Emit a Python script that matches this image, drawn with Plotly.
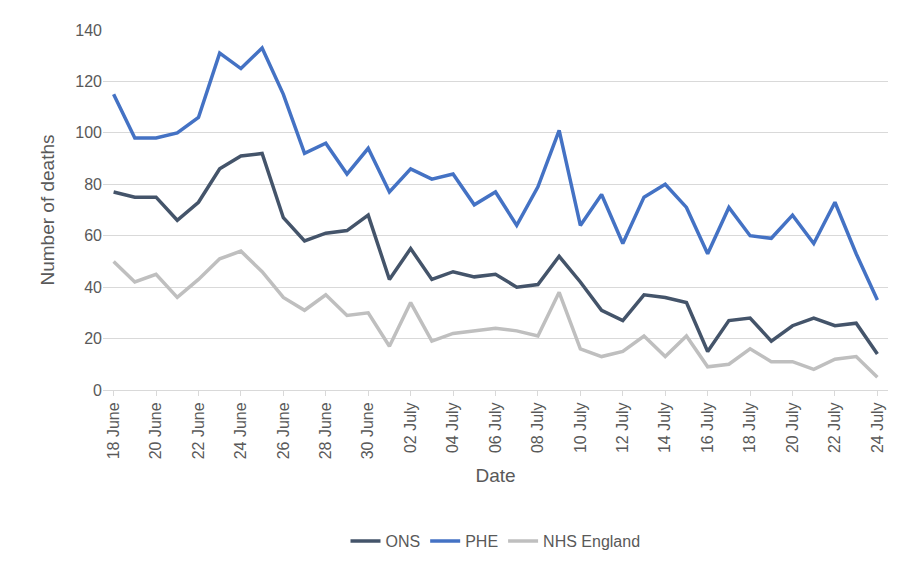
import plotly.graph_objects as go

dates = ["18 June", "19 June", "20 June", "21 June", "22 June", "23 June", "24 June", "25 June",
         "26 June", "27 June", "28 June", "29 June", "30 June", "01 July", "02 July", "03 July",
         "04 July", "05 July", "06 July", "07 July", "08 July", "09 July", "10 July", "11 July",
         "12 July", "13 July", "14 July", "15 July", "16 July", "17 July", "18 July", "19 July",
         "20 July", "21 July", "22 July", "23 July", "24 July"]
ons = [77, 75, 75, 66, 73, 86, 91, 92, 67, 58, 61, 62, 68, 43, 55, 43, 46, 44, 45, 40, 41, 52,
       42, 31, 27, 37, 36, 34, 15, 27, 28, 19, 25, 28, 25, 26, 14]
phe = [115, 98, 98, 100, 106, 131, 125, 133, 115, 92, 96, 84, 94, 77, 86, 82, 84, 72, 77, 64, 79,
       101, 64, 76, 57, 75, 80, 71, 53, 71, 60, 59, 68, 57, 73, 53, 35]
nhs = [50, 42, 45, 36, 43, 51, 54, 46, 36, 31, 37, 29, 30, 17, 34, 19, 22, 23, 24, 23, 21, 38,
       16, 13, 15, 21, 13, 21, 9, 10, 16, 11, 11, 8, 12, 13, 5]

fig = go.Figure()
fig.add_trace(go.Scatter(x=dates, y=ons, name="ONS", mode="lines",
                         line=dict(color="#44546A", width=3.5)))
fig.add_trace(go.Scatter(x=dates, y=phe, name="PHE", mode="lines",
                         line=dict(color="#4472C4", width=3.5)))
fig.add_trace(go.Scatter(x=dates, y=nhs, name="NHS England", mode="lines",
                         line=dict(color="#BFBFBF", width=3.5)))

fig.update_layout(
    width=905, height=562,
    paper_bgcolor="white", plot_bgcolor="white",
    font=dict(family="Liberation Sans, Arial", size=16, color="#595959"),
    margin=dict(l=95, r=25, t=22, b=180, autoexpand=False),
    showlegend=True,
    legend=dict(orientation="h", x=0.5, xanchor="center", y=-0.42, yanchor="middle",
                font=dict(size=16, color="#595959")),
    xaxis=dict(title=dict(text="Date", standoff=10), tickangle=-90, automargin=False,
               tickvals=dates[::2], showgrid=False, showline=True,
               linecolor="#D9D9D9", ticks="outside", tickcolor="#D9D9D9", ticklen=5,
               range=[-0.5, 36.5]),
    yaxis=dict(title=dict(text="Number of deaths", standoff=15), range=[0, 140], dtick=20,
               gridcolor="#D9D9D9", zeroline=False, showline=False, automargin=False),
)
fig.write_html("out.html")
